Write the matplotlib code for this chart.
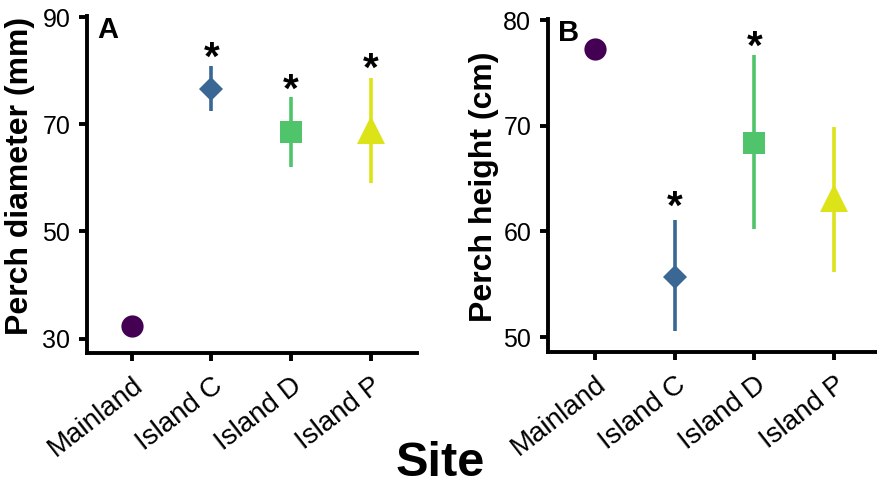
import matplotlib
matplotlib.use("Agg")
import matplotlib.pyplot as plt
from matplotlib.transforms import ScaledTranslation

plt.rcParams['font.family'] = ['Liberation Sans', 'DejaVu Sans']

sites = ["Mainland", "Island C", "Island D", "Island P"]
colors = ["#440154", "#3A6794", "#4FC46A", "#DDE319"]
markers = ["o", "D", "s", "^"]

# Panel A: perch diameter (mm)
diam_mean = [32.4, 76.6, 68.6, 68.9]
diam_low = [32.4, 72.4, 62.1, 59.0]
diam_high = [32.4, 80.9, 75.1, 78.6]
diam_sig = [False, True, True, True]
diam_star_y = [None, 82.3, 76.3, 80.1]

# Panel B: perch height (cm)
height_mean = [77.3, 55.7, 68.4, 63.2]
height_low = [77.3, 50.6, 60.2, 56.2]
height_high = [77.3, 61.1, 76.7, 69.9]
height_sig = [False, True, True, False]
height_star_y = [None, 62.2, 77.4, None]

W, H = 878, 491
fig = plt.figure(figsize=(W / 100, H / 100), dpi=100)


def make_ax(left, right, top, bottom):
    return fig.add_axes([left / W, 1 - bottom / H, (right - left) / W, (bottom - top) / H])


marker_sizes = {"o": 16, "D": 12, "s": 16, "^": 20}


def draw(ax, means, lows, highs, stars, star_y, yticks, ylim, xlim, letter):
    for i, (m, lo, hi) in enumerate(zip(means, lows, highs)):
        ax.plot([i, i], [lo, hi], color=colors[i], lw=2.6, solid_capstyle='butt', zorder=2)
        ax.plot(i, m, marker=markers[i], color=colors[i], ms=marker_sizes[markers[i]],
                markeredgewidth=0, zorder=3)
        if stars[i]:
            ax.text(i, star_y[i], "*", ha='center', va='center', fontsize=29,
                    fontweight='bold', color='black')
    ax.set_xlim(*xlim)
    ax.set_ylim(*ylim)
    ax.set_yticks(yticks)
    ax.set_yticklabels([str(t) for t in yticks], fontsize=18)
    ax.set_xticks(range(len(sites)))
    ax.set_xticklabels(sites, fontsize=20, rotation=38,
                       ha='right', va='top', rotation_mode='anchor')
    shift = ScaledTranslation(9 / 100, 0, fig.dpi_scale_trans)
    for lab in ax.get_xticklabels():
        lab.set_transform(lab.get_transform() + shift)
    for s in ['top', 'right']:
        ax.spines[s].set_visible(False)
    for s in ['left', 'bottom']:
        ax.spines[s].set_linewidth(2.8)
    ax.tick_params(axis='both', width=2.8, length=6, color='black')
    ax.tick_params(axis='y', pad=6)
    ax.tick_params(axis='x', pad=8)
    ax.text(0.03, 1.0, letter, transform=ax.transAxes, fontsize=21, fontweight='bold',
            ha='left', va='top')


axA = make_ax(87, 417, 16, 353)
draw(axA, diam_mean, diam_low, diam_high, diam_sig, diam_star_y,
     [30, 50, 70, 90], (27.3, 90.2), (-0.56, 3.58), "A")

axB = make_ax(548, 878, 19, 352)
draw(axB, height_mean, height_low, height_high, height_sig, height_star_y,
     [50, 60, 70, 80], (48.6, 80.1), (-0.59, 3.55), "B")

fig.text(20 / W, 1 - 176 / H, "Perch diameter (mm)", rotation=90, ha='center', va='center',
         fontsize=23, fontweight='bold')
fig.text(484 / W, 1 - 187 / H, "Perch height (cm)", rotation=90, ha='center', va='center',
         fontsize=23, fontweight='bold')

fig.text(440 / W, 1 - 463 / H, "Site", ha='center', va='center', fontsize=35,
         fontweight='bold')

fig.savefig("out.png", dpi=100)
